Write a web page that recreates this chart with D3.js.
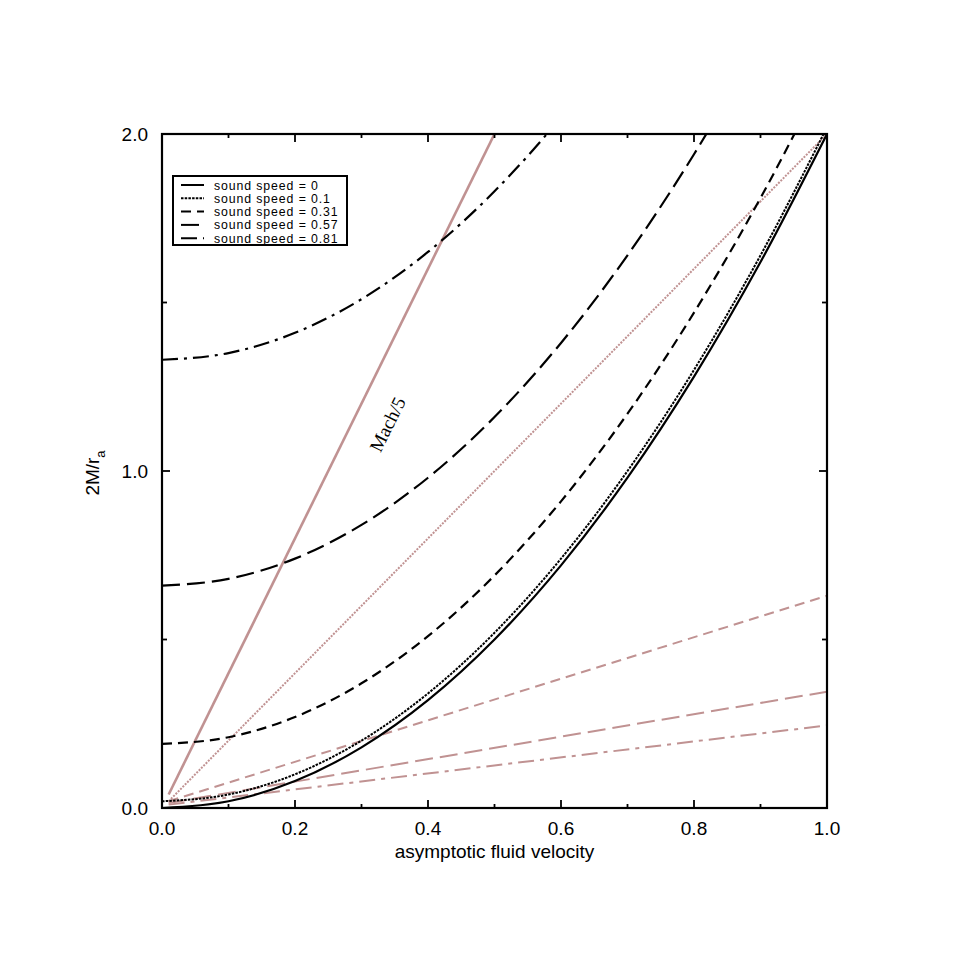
<!DOCTYPE html>
<html><head><meta charset="utf-8">
<script src="https://cdn.jsdelivr.net/npm/d3@7"></script>
<style>html,body{margin:0;padding:0;background:#fff;}</style>
</head><body>
<svg id="c" width="969" height="969"></svg>
<script>
// ---- data ----
const velocity = [0, 0.1, 0.2, 0.3, 0.4, 0.5, 0.6, 0.7, 0.8, 0.9, 1.0];
const soundSpeeds = ["0", "0.1", "0.31", "0.57", "0.81"];
const cs0    = [0.00, 0.02, 0.08, 0.18, 0.32, 0.50, 0.72, 0.98, 1.28, 1.62, 2.00];
const cs01   = [0.02, 0.04, 0.10, 0.20, 0.34, 0.52, 0.74, 1.00, 1.30, 1.64, 2.02];
const cs031  = [0.19, 0.21, 0.27, 0.37, 0.51, 0.69, 0.91, 1.17, 1.47, 1.81, 2.19];
const cs057  = [0.66, 0.68, 0.74, 0.84, 0.98, 1.16, 1.38, 1.64, 1.94, 2.28, 2.66];
const cs081  = [1.33, 1.35, 1.41, 1.51, 1.65, 1.83, 2.05, 2.31, 2.61, 2.95, 3.33];
// pink reference lines: [v, 2M/r_a] endpoints
const machLine   = [[0.01, 0.04], [0.5, 2.0]];
const pinkDotted = [[0.01, 0.02], [1.0, 2.0]];
const pinkDash   = [[0.01, 0.02], [1.0, 0.63]];
const pinkLong   = [[0.01, 0.015], [1.0, 0.345]];
const pinkDashDot= [[0.01, 0.01], [1.0, 0.245]];
const xTicks = [0, 0.2, 0.4, 0.6, 0.8, 1.0];
const yTicks = [0, 1, 2];
const xMinor = [0.1, 0.3, 0.5, 0.7, 0.9];
const yMinor = [0.5, 1.5];

const svg = d3.select("#c");
const L = 162, R = 827, T = 134, B = 808;
const x = d3.scaleLinear().domain([0, 1]).range([L, R]);
const y = d3.scaleLinear().domain([0, 2]).range([B, T]);

svg.append("defs").append("clipPath").attr("id", "clip")
  .append("rect").attr("x", L).attr("y", T).attr("width", R - L).attr("height", B - T);

const g = svg.append("g").attr("clip-path", "url(#clip)");
const pink = "#c09292";
const line = d3.line().x(d => x(d[0])).y(d => y(d[1]));
const curve = d3.line().x(d => x(d[0])).y(d => y(d[1])).curve(d3.curveMonotoneX);

// pink lines
[[pinkDotted, "2,1.3", 2], [pinkDash, "10,6", 2], [pinkLong, "18,7", 2],
 [pinkDashDot, "16,6,4,6", 2], [machLine, null, 2.6]].forEach(([d, dash, w]) => {
  g.append("path").attr("d", line(d)).attr("fill", "none").attr("stroke", pink)
    .attr("stroke-width", w).attr("stroke-dasharray", dash);
});

// black curves
const series = [cs0, cs01, cs031, cs057, cs081];
const dashes = [null, "2.5,1.2", "10,6", "18,7", "16,6,3,6"];
const widths = [2.2, 2, 2.2, 2.2, 2.2];
series.forEach((s, i) => {
  g.append("path").attr("d", curve(velocity.map((v, j) => [v, s[j]])))
    .attr("fill", "none").attr("stroke", "#000").attr("stroke-width", widths[i])
    .attr("stroke-dasharray", dashes[i]);
});

// frame
svg.append("rect").attr("x", L).attr("y", T).attr("width", R - L).attr("height", B - T)
  .attr("fill", "none").attr("stroke", "#000").attr("stroke-width", 2.2);

// ticks (inward, all four sides)
const tk = svg.append("g").attr("stroke", "#000").attr("stroke-width", 1.8);
xTicks.slice(1, -1).forEach(v => {
  tk.append("line").attr("x1", x(v)).attr("x2", x(v)).attr("y1", B).attr("y2", B - 8);
  tk.append("line").attr("x1", x(v)).attr("x2", x(v)).attr("y1", T).attr("y2", T + 8);
});
xMinor.forEach(v => {
  tk.append("line").attr("x1", x(v)).attr("x2", x(v)).attr("y1", B).attr("y2", B - 4);
  tk.append("line").attr("x1", x(v)).attr("x2", x(v)).attr("y1", T).attr("y2", T + 4);
});
yTicks.slice(1, -1).forEach(v => {
  tk.append("line").attr("x1", L).attr("x2", L + 8).attr("y1", y(v)).attr("y2", y(v));
  tk.append("line").attr("x1", R).attr("x2", R - 8).attr("y1", y(v)).attr("y2", y(v));
});
yMinor.forEach(v => {
  tk.append("line").attr("x1", L).attr("x2", L + 5).attr("y1", y(v)).attr("y2", y(v));
  tk.append("line").attr("x1", R).attr("x2", R - 5).attr("y1", y(v)).attr("y2", y(v));
});

// tick labels
const font = "'Liberation Sans', Arial, Helvetica, sans-serif";
xTicks.forEach(v => {
  svg.append("text").attr("x", x(v)).attr("y", B + 27).attr("text-anchor", "middle")
    .attr("font-family", font).attr("font-size", 19).text(d3.format(".1f")(v));
});
yTicks.forEach(v => {
  svg.append("text").attr("x", L - 14).attr("y", y(v) + 7).attr("text-anchor", "end")
    .attr("font-family", font).attr("font-size", 19).text(d3.format(".1f")(v));
});

// axis titles
svg.append("text").attr("x", (L + R) / 2).attr("y", 858).attr("text-anchor", "middle")
  .attr("font-family", font).attr("font-size", 19).text("asymptotic fluid velocity");
const yl = svg.append("text").attr("transform", "translate(99,473) rotate(-90)")
  .attr("text-anchor", "middle").attr("font-family", font).attr("font-size", 19);
yl.append("tspan").text("2M/r");
yl.append("tspan").attr("font-size", 13).attr("dy", 6).text("a");

// Mach/5 label
const ang = Math.atan2(y(0) - y(1.1), x(0.275) - x(0)) * 180 / Math.PI;
svg.append("text").attr("transform", `translate(${x(0.348)},${y(1.13)}) rotate(${-ang})`)
  .attr("text-anchor", "middle").attr("font-family", "'Liberation Serif', 'Times New Roman', serif")
  .attr("font-size", 19).text("Mach/5");

// legend
const lg = svg.append("g");
lg.append("rect").attr("x", 173).attr("y", 176).attr("width", 174).attr("height", 69)
  .attr("fill", "#fff").attr("stroke", "#000").attr("stroke-width", 2);
soundSpeeds.forEach((c, i) => {
  const yy = 185 + i * 13.3;
  lg.append("line").attr("x1", 181).attr("x2", 204).attr("y1", yy).attr("y2", yy)
    .attr("stroke", "#000").attr("stroke-width", 2).attr("stroke-dasharray", dashes[i]);
  lg.append("text").attr("x", 214).attr("y", yy + 4.5).attr("font-family", font)
    .attr("font-size", 12.3).attr("letter-spacing", 0.9).text("sound speed = " + c);
});
</script>
</body></html>
